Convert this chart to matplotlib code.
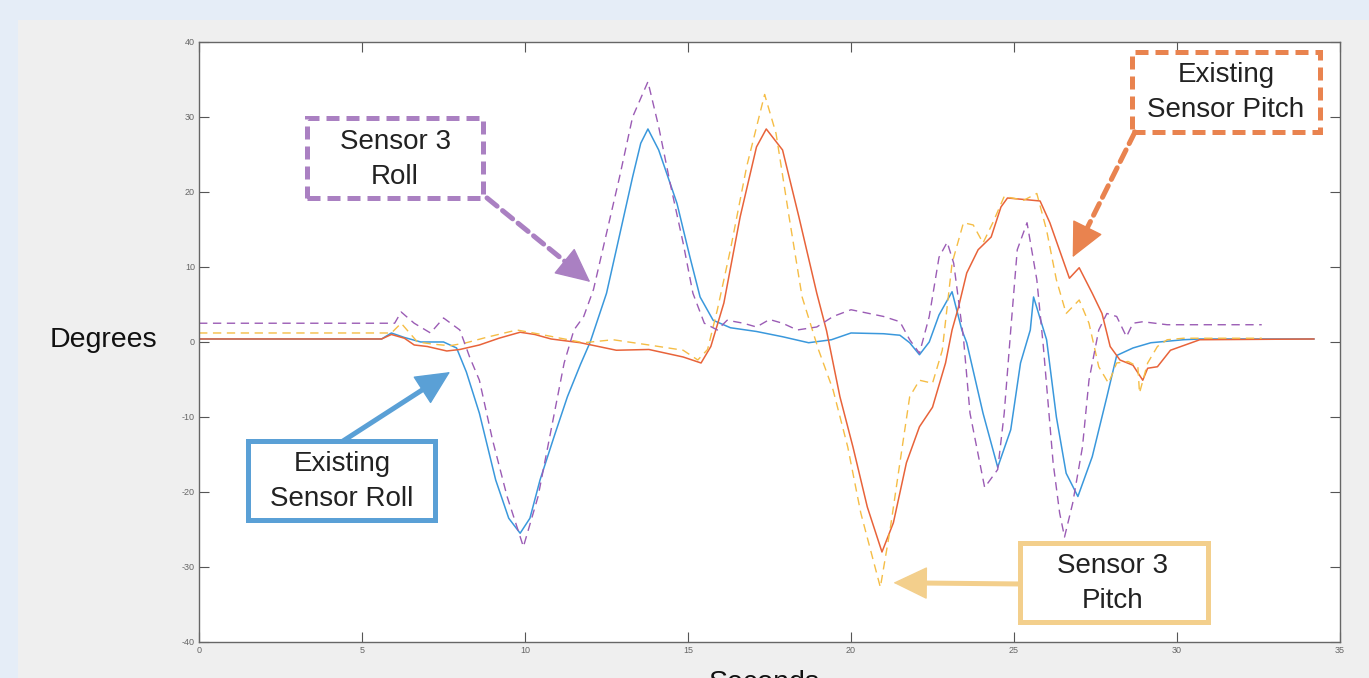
import matplotlib
matplotlib.use("Agg")
import numpy as np
import matplotlib.pyplot as plt
from matplotlib.patches import Rectangle

plt.rcParams['font.family'] = ['Liberation Sans', 'DejaVu Sans']
plt.rcParams['axes.unicode_minus'] = False

# Existing sensor roll (blue, solid)
roll_t = [0, 5.6, 5.9, 6.3, 6.8, 7.5, 7.9, 8.2, 8.6, 9.1, 9.5, 9.85, 10.15, 10.46, 10.9, 11.3, 11.7, 12.0,
          12.5, 12.8, 13.3, 13.55, 13.77, 14.1, 14.66, 15.06, 15.37, 15.77, 16.3, 17.1, 17.9, 18.7, 19.4,
          20.0, 21.0, 21.5, 21.8, 22.1, 22.4, 22.7, 23.1, 23.4, 23.55, 24.05, 24.5, 24.9, 25.2, 25.5, 25.6,
          26.0, 26.3, 26.6, 26.96, 27.4, 27.85, 28.15, 28.65, 29.2, 30.2, 30.7, 34.2]
roll_v = [0.4, 0.4, 1.2, 0.6, 0.0, 0.0, -0.8, -4.0, -9.5, -18.4, -23.5, -25.5, -23.5, -18.4, -12.5, -7.3, -3.0, 0.0,
          6.5, 12.3, 22.0, 26.5, 28.4, 25.6, 18.5, 11.3, 6.0, 2.9, 1.9, 1.4, 0.7, -0.1, 0.3,
          1.2, 1.1, 0.9, -0.1, -1.7, 0.0, 3.6, 6.7, 1.6, -0.1, -9.5, -16.7, -11.7, -2.8, 1.6, 6.0,
          0.3, -10.0, -17.5, -20.6, -15.3, -7.3, -1.8, -0.8, -0.1, 0.3, 0.4, 0.4]

# Existing sensor pitch (orange, solid)
pitch_t = [0, 5.6, 5.9, 6.3, 6.6, 7.0, 7.6, 8.0, 8.6, 9.2, 9.85, 10.3, 10.8, 11.7, 12.8, 13.8, 14.85, 15.4,
           15.7, 16.1, 16.6, 17.1, 17.4, 17.9, 18.4, 18.95, 19.25, 19.66, 20.06, 20.5, 20.95, 21.3, 21.7,
           22.1, 22.5, 22.9, 23.1, 23.3, 23.55, 23.9, 24.3, 24.6, 24.8, 25.8, 26.1, 26.7, 27.0, 27.4, 27.7,
           27.95, 28.25, 28.65, 28.95, 29.1, 29.4, 29.8, 30.7, 34.2]
pitch_v = [0.4, 0.4, 1.0, 0.5, -0.4, -0.6, -1.2, -1.0, -0.4, 0.5, 1.3, 1.0, 0.4, -0.1, -1.1, -1.0, -2.0, -2.8,
           -0.6, 5.2, 16.7, 26.0, 28.4, 25.6, 16.7, 6.5, 1.5, -7.3, -14.0, -22.0, -28.0, -24.1, -16.1,
           -11.3, -8.7, -2.8, 1.6, 4.7, 9.2, 12.3, 14.0, 18.0, 19.2, 18.8, 15.9, 8.5, 9.9, 6.5, 3.8,
           -0.6, -2.4, -3.1, -5.1, -3.5, -3.3, -1.1, 0.3, 0.4]

# Sensor 3 pitch (yellow, dashed)
s3pitch_t = [0, 5.9, 6.2, 6.7, 7.2, 7.7, 8.2, 8.8, 9.75, 10.5, 11.8, 12.7, 13.8, 14.85, 15.3, 15.6, 15.9,
             16.3, 16.8, 17.35, 17.7, 18.1, 18.5, 19.0, 19.45, 19.9, 20.3, 20.9, 21.2, 21.5, 21.8, 22.1,
             22.5, 22.8, 23.1, 23.45, 23.75, 24.05, 24.35, 24.7, 25.3, 25.7, 26.0, 26.3, 26.6, 27.0, 27.3,
             27.6, 27.9, 28.15, 28.5, 28.8, 28.85, 29.1, 29.4, 29.7, 30.2, 32.6]
s3pitch_v = [1.2, 1.2, 2.5, 0.0, -0.3, -0.5, -0.1, 0.6, 1.6, 1.0, -0.1, 0.3, -0.4, -1.1, -2.4, -1.0, 4.3,
             12.3, 23.4, 33.0, 27.8, 16.7, 6.0, -1.0, -6.4, -14.0, -22.8, -32.7, -25.0, -16.1, -7.3, -5.1,
             -5.5, -1.1, 10.5, 15.9, 15.6, 13.2, 15.9, 19.4, 18.9, 19.8, 14.9, 8.3, 3.8, 5.6, 2.5,
             -3.3, -5.5, -2.8, -2.6, -3.3, -6.8, -2.8, -0.6, 0.3, 0.5, 0.5]

# Sensor 3 roll (purple, dashed)
s3roll_t = [0, 6.0, 6.2, 6.6, 7.1, 7.5, 8.0, 8.3, 8.6, 9.0, 9.45, 9.95, 10.4, 10.8, 11.2, 11.5, 11.8, 12.1,
            12.5, 12.9, 13.3, 13.77, 14.1, 14.45, 14.85, 15.15, 15.5, 15.9, 16.2, 16.7, 17.1, 17.5, 17.9,
            18.35, 18.95, 19.45, 20.0, 21.0, 21.5, 21.8, 22.1, 22.4, 22.7, 22.95, 23.15, 23.45, 23.65, 24.1,
            24.5, 24.7, 24.9, 25.1, 25.4, 25.7, 25.9, 26.2, 26.4, 26.55, 26.8, 27.1, 27.3, 27.6, 27.85,
            28.15, 28.45, 28.65, 28.95, 29.7, 32.6]
s3roll_v = [2.5, 2.5, 4.0, 2.5, 1.2, 3.2, 1.6, -2.0, -5.1, -13.0, -20.6, -27.3, -20.6, -11.7, -2.8, 1.6, 3.4, 7.0,
            14.5, 22.0, 30.0, 34.7, 28.7, 21.2, 13.2, 6.5, 2.5, 1.6, 2.9, 2.5, 2.0, 3.0, 2.5,
            1.6, 2.0, 3.4, 4.3, 3.4, 2.7, 0.3, -1.5, 3.4, 11.3, 13.3, 10.5, 0.5, -9.5, -19.4,
            -17.0, -9.5, 1.6, 12.3, 15.9, 8.3, -0.6, -16.1, -22.8, -26.0, -21.5, -14.0, -5.1, 1.6, 3.8,
            3.4, 0.7, 2.5, 2.7, 2.3, 2.3]

xticks = [0, 5, 10, 15, 20, 25, 30, 35]
yticks = [-40, -30, -20, -10, 0, 10, 20, 30, 40]

fig = plt.figure(figsize=(13.69, 6.78), dpi=100, facecolor='#e5edf7')
# grey panel behind the plot
fig.patches.append(Rectangle((18 / 1369, 0), 1 - 18 / 1369, 1 - 20 / 678,
                             transform=fig.transFigure, facecolor='#efefef', edgecolor='none', zorder=-10))

ax = fig.add_axes([0.1454, 0.0531, 0.8334, 0.885])
ax.set_facecolor('white')

ax.plot(roll_t, roll_v, color='#3a98dc', lw=1.1)
ax.plot(pitch_t, pitch_v, color='#e8633a', lw=1.1)
ax.plot(s3pitch_t, s3pitch_v, color='#f5bd45', lw=1.0, ls=(0, (6, 4)))
ax.plot(s3roll_t, s3roll_v, color='#9b5cb5', lw=1.0, ls=(0, (6, 4)))

ax.set_xlim(0, 35)
ax.set_ylim(-40, 40)
ax.set_xticks(xticks)
ax.set_yticks(yticks)
ax.tick_params(direction='in', length=7, width=0.8, color='#555555', labelsize=6.5,
               labelcolor='#666666', top=True, right=True, pad=3)
for s in ax.spines.values():
    s.set_color('#666666')
    s.set_linewidth(1.0)

fig.text(50 / 1369, (678 - 347) / 678, 'Degrees', fontsize=20.5, color='#111111', ha='left', va='baseline')
fig.text(764 / 1369, (678 - 670) / 678, 'Seconds', fontsize=20.5, color='#111111', ha='center', va='top')

# annotation boxes
dash = (0, (2.6, 1.4))
boxes = [
    # (x0, y0, x1, y1, color, linestyle, label, text x, text y)
    (0.0947, 0.74, 0.2489, 0.8733, '#aa80c2', dash, 'Sensor 3\nRoll', 0.1718, 0.8033),
    (0.8177, 0.85, 0.9825, 0.9833, '#e9834f', dash, 'Existing\nSensor Pitch', 0.9001, 0.9158),
    (0.0429, 0.2033, 0.2068, 0.335, '#5aa0d6', '-', 'Existing\nSensor Roll', 0.1253, 0.2683),
    (0.7195, 0.0333, 0.8843, 0.165, '#f3cf8c', '-', 'Sensor 3\nPitch', 0.801, 0.0975),
]
for x0, y0, x1, y1, col, lsty, label, tx, ty in boxes:
    ax.add_patch(Rectangle((x0, y0), x1 - x0, y1 - y0, transform=ax.transAxes, facecolor='white',
                           edgecolor=col, lw=3.6, ls=lsty, clip_on=False, zorder=5))
    ax.text(tx, ty, label, transform=ax.transAxes, ha='center', va='center', fontsize=20,
            color='#222222', linespacing=1.45, zorder=6)

# arrows: start on box (axes fraction), tip on the data (data coords)
arrows = [
    ((0.2524, 0.74), (12.0, 8.0), '#aa80c2', (0, (2.6, 1.4))),
    ((0.8203, 0.85), (26.8, 11.3), '#e9834f', (0, (2.6, 1.4))),
    ((0.1262, 0.335), (7.7, -4.0), '#5aa0d6', '-'),
    ((0.7195, 0.0967), (21.3, -32.1), '#f3cf8c', '-'),
]
head_px = 34
for start, tip, col, lsty in arrows:
    p0 = ax.transAxes.transform(start)
    p1 = ax.transData.transform(tip)
    u = (p1 - p0) / np.hypot(*(p1 - p0))
    base = ax.transData.inverted().transform(p1 - u * head_px)
    base_in = ax.transData.inverted().transform(p1 - u * (head_px - 4))
    shaft_end = ax.transData.inverted().transform(p1 - u * (head_px - 6))
    ax.annotate('', xy=shaft_end, xycoords='data', xytext=start, textcoords='axes fraction',
                arrowprops=dict(arrowstyle='-', color=col, lw=3.6, ls=lsty, shrinkA=0, shrinkB=0),
                zorder=5)
    ax.annotate('', xy=tip, xycoords='data', xytext=base, textcoords='data',
                arrowprops=dict(arrowstyle='-|>,head_length=1.25,head_width=0.6', mutation_scale=18,
                                color=col, lw=1.0, shrinkA=0, shrinkB=0), zorder=5)

fig.savefig('out.png', dpi=100, facecolor=fig.get_facecolor())
